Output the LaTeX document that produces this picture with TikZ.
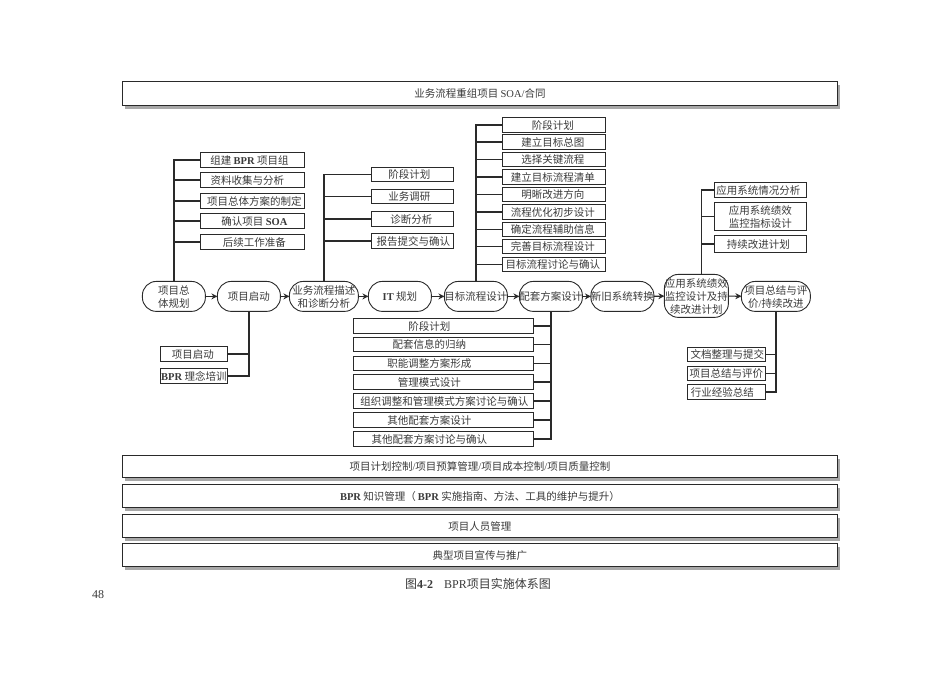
\documentclass[tikz,border=0pt]{standalone}
\usepackage{fontspec}
\setmainfont{Liberation Serif}
\newfontfamily\cjk{Noto Sans CJK SC}
\usetikzlibrary{arrows.meta,shadows}
\definecolor{ink}{HTML}{2A2A2A}
\definecolor{txt}{HTML}{3A3A3A}
\definecolor{shd}{HTML}{A8A8A8}
\newcommand{\lt}[1]{{\rmfamily #1}}
\newcommand{\lb}[1]{{\rmfamily\bfseries #1}}
\newcommand{\sh}[2]{\makebox[0pt]{\hspace{\dimexpr 2pt*#1\relax}#2}}
\newcommand{\bx}[7][sbox]{%
  \pgfmathsetmacro{\cxx}{(#3+#5)/2}\pgfmathsetmacro{\cyy}{(#4+#6)/2}%
  \pgfmathsetmacro{\wdd}{#5-#3}\pgfmathsetmacro{\htt}{#6-#4}%
  \node[#1,minimum width=\wdd pt,minimum height=\htt pt] (#2) at (\cxx+0.4,\cyy+0.4)
    {\smash{\raisebox{-2pt}{\begin{tabular}[c]{@{}c@{}}#7\end{tabular}}}\vphantom{Ag}};}
\tikzset{
  base/.style={draw=ink,fill=white,line width=0.9pt,inner sep=0pt,outer sep=0pt,text=txt,
    font=\cjk\fontsize{10.5}{13}\selectfont},
  sbox/.style={base,drop shadow={shadow xshift=1pt,shadow yshift=-1pt,fill=shd!70,opacity=1}},
  bar/.style={base,drop shadow={shadow xshift=2.5pt,shadow yshift=-3.5pt,fill=shd,opacity=1}},
  oval/.style={base,rounded corners=14pt},
  link/.style={draw=ink,line width=1.2pt},
  flow/.style={draw=ink,line width=1.2pt,-{Stealth[length=6pt,width=6pt]}}
}
\begin{document}
\begin{tikzpicture}[x=1pt,y=-1pt]
\useasboundingbox (0,0) rectangle (950,672);
\fill[white] (0,0) rectangle (950,672);
% full-width bars
\bx[bar]{top}{122}{81}{837}{105}{业务流程重组项目 \lt{SOA/}合同}
\bx[bar]{barA}{122}{455}{837}{477}{项目计划控制\lt{/}项目预算管理\lt{/}项目成本控制\lt{/}项目质量控制}
\bx[bar]{barB}{122}{484}{837}{507}{\lb{BPR} 知识管理（\hspace{2pt}\lb{BPR} 实施指南、方法、工具的维护与提升）}
\bx[bar]{barC}{122}{514}{837}{537}{项目人员管理}
\bx[bar]{barD}{122}{543}{837}{566}{典型项目宣传与推广}
% phases
\bx[oval]{o1}{142}{281}{205}{311}{项目总\\体规划}
\bx[oval]{o2}{217}{281}{280}{311}{项目启动}
\bx[oval]{o3}{289}{281}{358}{311}{业务流程描述\\和诊断分析}
\bx[oval]{o4}{368}{281}{431}{311}{\lb{IT} 规划}
\bx[oval]{o5}{444}{281}{507}{311}{目标流程设计}
\bx[oval]{o6}{519}{281}{582}{311}{配套方案设计}
\bx[oval]{o7}{591}{281}{653}{311}{新旧系统转换}
\bx[oval]{o8}{664}{274}{728}{317}{应用系统绩效\\监控设计及持\\续改进计划}
\bx[oval]{o9}{741}{281}{810}{311}{项目总结与评\\价\lt{/}持续改进}
% group 1
\bx{a1}{200}{152}{304}{167}{\sh{-3}{组建 \lb{BPR} 项目组}}
\bx{a2}{200}{172}{304}{187}{\sh{-5}{资料收集与分析}}
\bx{a3}{200}{193}{304}{208}{\sh{2}{项目总体方案的制定}}
\bx{a4}{200}{213}{304}{228}{\sh{2}{确认项目 \lb{SOA}}}
\bx{a5}{200}{234}{304}{249}{\sh{2}{后续工作准备}}
% group 2
\bx{b1}{160}{346}{227}{361}{\sh{-1}{项目启动}}
\bx{b2}{160}{368}{227}{383}{\lb{BPR} 理念培训}
% group 3
\bx{c1}{371}{167}{453}{181}{\sh{-3}{阶段计划}}
\bx{c2}{371}{189}{453}{203}{\sh{-3}{业务调研}}
\bx{c3}{371}{211}{453}{226}{\sh{-1}{诊断分析}}
\bx{c4}{371}{233}{453}{248}{\sh{1}{报告提交与确认}}
% group 5
\bx{d1}{502}{117}{605}{132}{\sh{-1}{阶段计划}}
\bx{d2}{502}{134}{605}{149}{\sh{-1}{建立目标总图}}
\bx{d3}{502}{152}{605}{166}{\sh{-1}{选择关键流程}}
\bx{d4}{502}{169}{605}{184}{\sh{-1}{建立目标流程清单}}
\bx{d5}{502}{187}{605}{201}{\sh{-1}{明晰改进方向}}
\bx{d6}{502}{204}{605}{219}{\sh{-1}{流程优化初步设计}}
\bx{d7}{502}{222}{605}{236}{\sh{-1}{确定流程辅助信息}}
\bx{d8}{502}{239}{605}{253}{\sh{-1}{完善目标流程设计}}
\bx{d9}{502}{257}{605}{271}{\sh{-1}{目标流程讨论与确认}}
% group 6
\bx{e1}{353}{318}{533}{333}{\sh{-14}{阶段计划}}
\bx{e2}{353}{337}{533}{351}{\sh{-14}{配套信息的归纳}}
\bx{e3}{353}{356}{533}{370}{\sh{-14}{职能调整方案形成}}
\bx{e4}{353}{374}{533}{389}{\sh{-14}{管理模式设计}}
\bx{e5}{353}{393}{533}{408}{\sh{1}{组织调整和管理模式方案讨论与确认}}
\bx{e6}{353}{412}{533}{427}{\sh{-14}{其他配套方案设计}}
\bx{e7}{353}{431}{533}{446}{\sh{-14}{其他配套方案讨论与确认}}
% group 8
\bx{f1}{714}{182}{806}{197}{\sh{-2}{应用系统情况分析}}
\bx{f2}{714}{202}{806}{230}{应用系统绩效\\监控指标设计}
\bx{f3}{714}{235}{806}{252}{\sh{-2}{持续改进计划}}
% group 9
\bx{g1}{687}{347}{765}{361}{\sh{1}{文档整理与提交}}
\bx{g2}{687}{366}{765}{380}{项目总结与评价}
\bx{g3}{687}{384}{765}{399}{\sh{-4}{行业经验总结}}
% text
\node[inner sep=0pt,text=txt,font=\cjk\fontsize{12}{13}\selectfont] (cap) at (478,584)
  {图\lb{4-2}\hspace{11pt}\lt{BPR}项目实施体系图};
\node[inner sep=0pt,text=txt,font=\rmfamily\fontsize{12}{13}\selectfont] (pg) at (98,595) {48};
% flow
\foreach \p/\q in {o1/o2,o2/o3,o3/o4,o4/o5,o5/o6,o6/o7,o7/o8,o8/o9}
  \draw[flow] (\p) -- (\q);
% branches
\foreach \n in {a1,a2,a3,a4,a5} \draw[link] (\n.west) -| (o1.north);
\foreach \n in {b1,b2} \draw[link] (\n.east) -| (o2.south);
\foreach \n in {c1,c2,c3,c4} \draw[link] (\n.west) -| (o3.north);
\foreach \n in {d1,d2,d3,d4,d5,d6,d7,d8,d9} \draw[link] (\n.west) -| (o5.north);
\foreach \n in {e1,e2,e3,e4,e5,e6,e7} \draw[link] (\n.east) -| (o6.south);
\foreach \n in {f1,f2,f3} \draw[link] (\n.west) -| ([xshift=5pt]o8.north);
\foreach \n in {g1,g2,g3} \draw[link] (\n.east) -| (o9.south);
\end{tikzpicture}
\end{document}
